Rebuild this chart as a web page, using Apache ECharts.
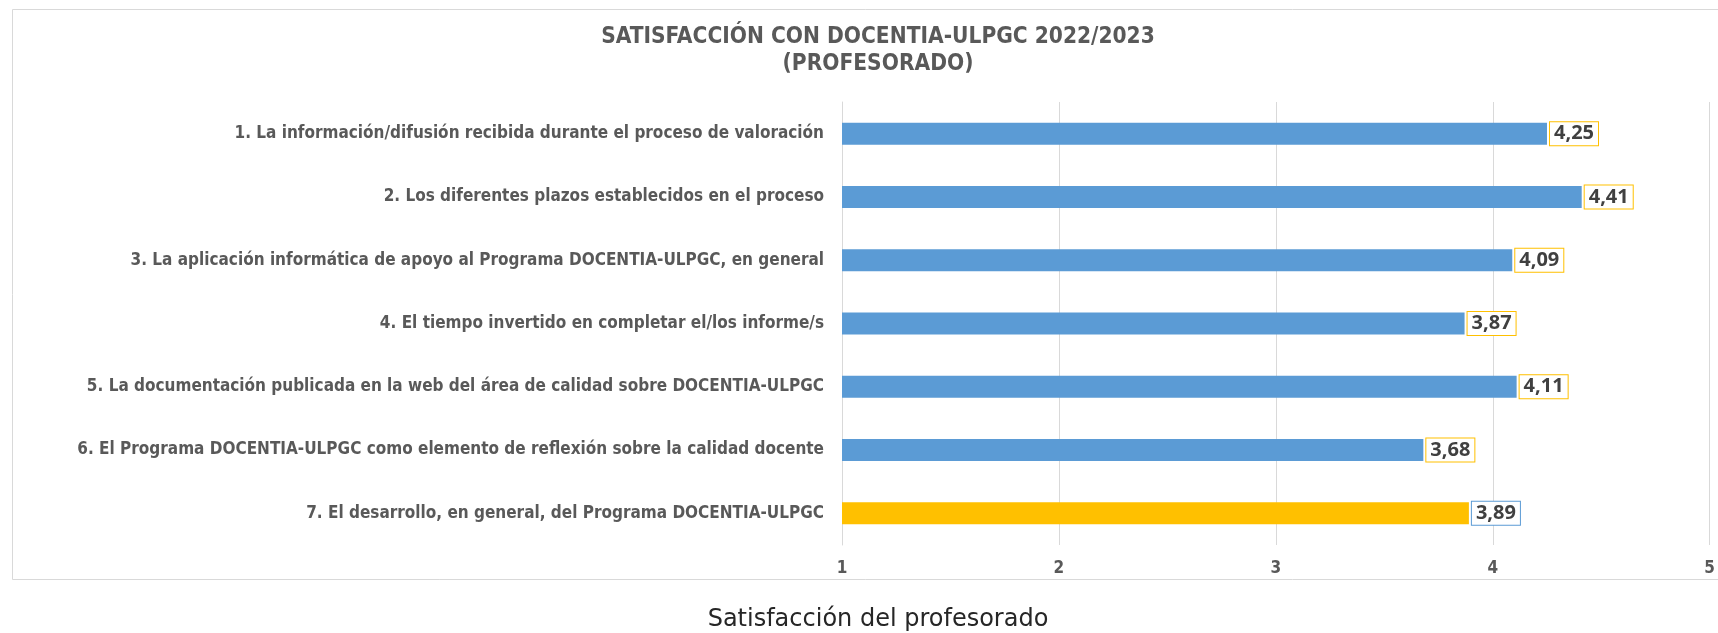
<!DOCTYPE html>
<html>
<head>
<meta charset="utf-8">
<script src="https://cdn.jsdelivr.net/npm/echarts@6/dist/echarts.min.js"></script>
<style>
  html, body { margin: 0; padding: 0; background: #fff; }
  #chart { width: 1718px; height: 633px; }
</style>
</head>
<body>
<div id="chart"></div>
<script>
    // datos del gráfico
    const categories = [
        '1. La información/difusión recibida durante el proceso de valoración',
        '2. Los diferentes plazos establecidos en el proceso',
        '3. La aplicación informática de apoyo al Programa DOCENTIA-ULPGC, en general',
        '4. El tiempo invertido en completar el/los informe/s',
        '5. La documentación publicada en la web del área de calidad sobre DOCENTIA-ULPGC',
        '6. El Programa DOCENTIA-ULPGC como elemento de reflexión sobre la calidad docente',
        '7. El desarrollo, en general, del Programa DOCENTIA-ULPGC'
    ];
    const values = [ 4.25, 4.41, 4.09, 3.87, 4.11, 3.68, 3.89 ];
    const axisTicks = [ 1, 2, 3, 4, 5 ];

    const BLUE = '#5B9BD5';
    const GOLD = '#FFC000';
    const GREY = '#595959';

    const chart = echarts.init( document.getElementById( 'chart' ) );

    const seriesData = values.map( function ( v, i ) {
        const last = i === values.length - 1;
        return {
            value: v,
            itemStyle: { color: last ? GOLD : BLUE },
            label: { borderColor: last ? BLUE : GOLD }
        };
    } );

    chart.setOption( {
        backgroundColor: '#ffffff',
        animation: false,
        title: [ {
            text: 'SATISFACCIÓN CON DOCENTIA-ULPGC 2022/2023\n(PROFESORADO)',
            left: 873,
            top: 19,
            textAlign: 'center',
            textStyle: {
                fontFamily: 'DejaVu Sans Condensed',
                fontWeight: 'bold',
                fontSize: 22.5,
                lineHeight: 27,
                color: GREY
            }
        }, {
            text: 'Satisfacción del profesorado',
            left: 873,
            top: 603,
            textAlign: 'center',
            textStyle: {
                fontFamily: 'DejaVu Sans',
                fontWeight: 'normal',
                fontSize: 24,
                color: '#262626'
            }
        } ],
        graphic: [ {
            type: 'rect',
            shape: { x: 12.5, y: 9.5, width: 1720, height: 570 },
            style: { fill: 'none', stroke: '#d9d9d9', lineWidth: 1 },
            silent: true
        } ],
        grid: {
            left: 842,
            right: 4,
            top: 102,
            bottom: 88
        },
        xAxis: {
            type: 'value',
            min: axisTicks[ 0 ],
            max: axisTicks[ axisTicks.length - 1 ],
            interval: 1,
            axisLine: { show: false },
            axisTick: { show: false },
            splitLine: { lineStyle: { color: '#d9d9d9', width: 1 } },
            axisLabel: {
                margin: 15,
                fontFamily: 'DejaVu Sans Condensed',
                fontWeight: 'bold',
                fontSize: 17,
                color: GREY
            }
        },
        yAxis: {
            type: 'category',
            inverse: true,
            data: categories,
            axisLine: { show: true, lineStyle: { color: '#d9d9d9' } },
            axisTick: { show: false },
            axisLabel: {
                margin: 18,
                fontFamily: 'DejaVu Sans Condensed',
                fontWeight: 'bold',
                fontSize: 17,
                color: GREY
            }
        },
        series: [ {
            type: 'bar',
            barWidth: 22,
            data: seriesData,
            label: {
                show: true,
                position: 'right',
                distance: 3,
                formatter: function ( p ) {
                    return p.value.toFixed( 2 ).replace( '.', ',' );
                },
                fontFamily: 'Noto Sans',
                fontWeight: 'bold',
                fontSize: 20,
                color: '#404040',
                backgroundColor: '#ffffff',
                borderWidth: 1,
                padding: [ 2, 4, 1, 4 ]
            }
        } ]
    } );
</script>
</body>
</html>
